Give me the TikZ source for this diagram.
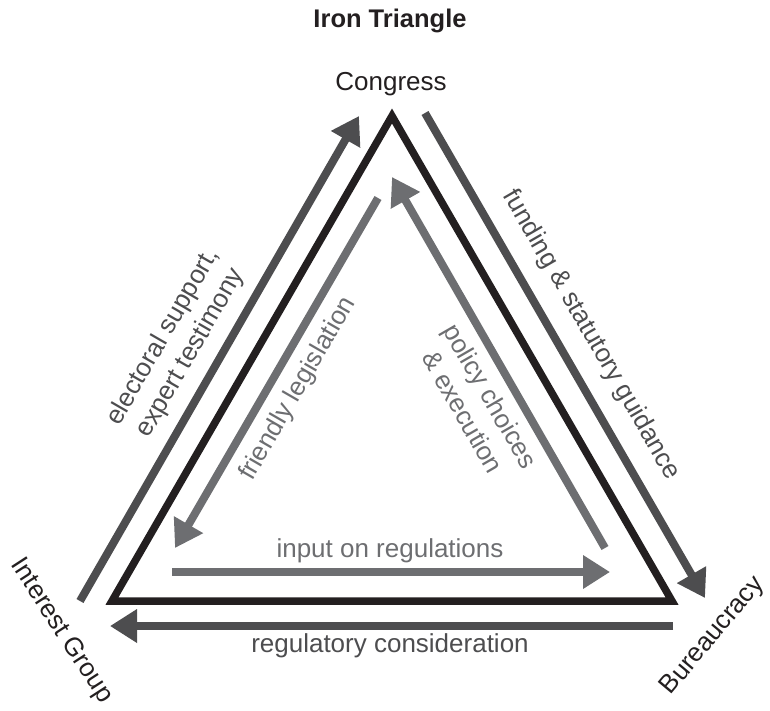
\documentclass[tikz,border=0pt]{standalone}
\usepackage{fontspec}
\setmainfont{Liberation Sans}
\usetikzlibrary{arrows.meta}
\definecolor{ink}{HTML}{231F20}
\definecolor{outerflow}{HTML}{4D4D4F}
\definecolor{innerflow}{HTML}{6D6E71}
\begin{document}
\begin{tikzpicture}[x=1pt,y=-1pt,
  lbl/.style={font=\fontsize{26}{32}\selectfont, inner sep=0pt, align=center},
  titlelbl/.style={font=\fontsize{25.5}{30}\selectfont\bfseries, inner sep=0pt, text=ink},
  outerarrow/.style={draw=outerflow, line width=8pt, -{Triangle[length=27pt,width=32pt]}},
  innerarrow/.style={draw=innerflow, line width=8pt, -{Triangle[length=27pt,width=32pt]}},
  ]
\useasboundingbox (0,0) rectangle (770,710);

% corners of the triangle
\coordinate (C) at (392,116);
\coordinate (I) at (112,601);
\coordinate (B) at (672,601);
\draw[ink, line width=7.5pt, line join=miter] (I) -- (C) -- (B) -- cycle;

% end points of the flows
\coordinate (esS) at (80,601);   \coordinate (esE) at (359,116);
\coordinate (fuS) at (425,113);  \coordinate (fuE) at (705,598);
\coordinate (rgS) at (673,626);  \coordinate (rgE) at (110,626);
\coordinate (inS) at (172,572);  \coordinate (inE) at (610,572);
\coordinate (frS) at (378,198);  \coordinate (frE) at (175,548);
\coordinate (poS) at (605,548);  \coordinate (poE) at (392,177);

\draw[outerarrow] (esS) -- (esE);
\draw[outerarrow] (fuS) -- (fuE);
\draw[outerarrow] (rgS) -- (rgE);
\draw[innerarrow] (inS) -- (inE);
\draw[innerarrow] (frS) -- (frE);
\draw[innerarrow] (poS) -- (poE);

% titles and labels
\node[titlelbl, anchor=base] (title) at (390,27) {Iron Triangle};
\node[lbl, text=ink, anchor=base] (congress) at (391,90) {Congress};
\node[lbl, text=ink, rotate=-57] (interest) at (61,631) {Interest Group};
\node[lbl, text=ink, rotate=50] (bureau) at (713,636) {Bureaucracy};

\node[lbl, text=outerflow, rotate=60] (elect) at (177,345) {electoral support,\\expert testimony};
\node[lbl, text=outerflow, rotate=-60] (fund) at (591,335) {funding \& statutory guidance};
\node[lbl, text=outerflow, anchor=base] (regc) at (390,652) {regulatory consideration};

\node[lbl, text=innerflow, anchor=base] (inreg) at (390,557) {input on regulations};
\node[lbl, text=innerflow, rotate=60] (friend) at (298,389) {friendly legislation};
\node[lbl, text=innerflow, rotate=-60] (policy) at (477,404) {policy choices\\\& execution};
\end{tikzpicture}
\end{document}
